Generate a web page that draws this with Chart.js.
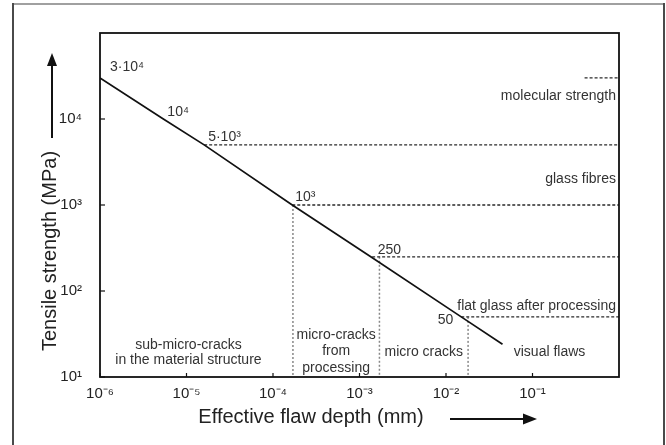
<!DOCTYPE html>
<html>
<head>
<meta charset="utf-8">
<script src="https://cdn.jsdelivr.net/npm/chart.js@4/dist/chart.umd.min.js"></script>
<style>
html,body{margin:0;padding:0;background:#fff;}
canvas{display:block;}
</style>
</head>
<body>
<canvas id="c" width="666" height="445"></canvas>
<script>
// ---- data ----
const flawDepth = [1e-6, 5.4e-6, 1.6e-5, 1.67e-4, 1.35e-3, 1.5e-2, 4.5e-2];   // mm
const strength  = [3e4, 1e4, 5e3, 1e3, 250, 50, 24];                          // MPa
const pointLabels = ['3·10⁴', '10⁴', '5·10³', '10³', '250', '50'];

const levelValues = [3e4, 5e3, 1e3, 250, 50];            // horizontal dashed levels (MPa)
const levelStart  = [0.4, 1.6e-5, 1.67e-4, 1.4e-3, 1.5e-2];
const levelEnd    = 1;

const boundaryDepth = [1.7e-4, 1.7e-3, 1.8e-2];          // vertical dotted boundaries (mm)
const boundaryTop   = [1e3, 250, 50];

const levelNames  = ['molecular strength', 'glass fibres', 'flat glass after processing'];
const regionNames = [
  ['sub-micro-cracks', 'in the material structure'],
  ['micro-cracks', 'from', 'processing'],
  ['micro cracks'],
  ['visual flaws']
];

const xTickValues = [1e-6, 1e-5, 1e-4, 1e-3, 1e-2, 1e-1];
const xTickLabels = ['10⁻⁶', '10⁻⁵', '10⁻⁴', '10⁻³', '10⁻²', '10⁻¹'];
const yTickValues = [10, 100, 1000, 10000];
const yTickLabels = ['10¹', '10²', '10³', '10⁴'];

const xMin = 1e-6, xMax = 1, yMin = 10, yMax = 1e5;
const xTitle = 'Effective flaw depth (mm)';
const yTitle = 'Tensile strength (MPa)';

// ---- styling ----
const FONT = '"Liberation Sans", Arial, Helvetica, sans-serif';

const datasets = [];
datasets.push({
  data: flawDepth.map((x, i) => ({x: x, y: strength[i]})),
  borderColor: '#111', borderWidth: 1.7, pointRadius: 0, tension: 0
});
levelValues.forEach((v, i) => datasets.push({
  data: [{x: levelStart[i], y: v}, {x: levelEnd, y: v}],
  borderColor: '#2a2a2a', borderWidth: 1.3, borderDash: [3, 2], pointRadius: 0
}));
boundaryDepth.forEach((d, i) => datasets.push({
  data: [{x: d, y: boundaryTop[i]}, {x: d, y: yMin}],
  borderColor: '#888', borderWidth: 1.5, borderDash: [2, 2], pointRadius: 0
}));

function txt(ctx, s, x, y, align, size, color) {
  ctx.font = size + 'px ' + FONT;
  ctx.textAlign = align;
  ctx.textBaseline = 'middle';
  ctx.fillStyle = color || '#2a2a2a';
  ctx.fillText(s, x, y);
}

const decor = {
  id: 'decor',
  beforeDraw(chart) {
    const ctx = chart.ctx;
    ctx.save();
    ctx.fillStyle = '#fff';
    ctx.fillRect(0, 0, chart.width, chart.height);
    // outer frame
    ctx.lineWidth = 2;
    ctx.strokeStyle = '#a0a0a0';
    ctx.beginPath(); ctx.moveTo(13, 4); ctx.lineTo(664, 4); ctx.stroke();
    ctx.strokeStyle = '#4a4a4a';
    ctx.beginPath(); ctx.moveTo(13, 3); ctx.lineTo(13, 445); ctx.stroke();
    ctx.beginPath(); ctx.moveTo(664, 3); ctx.lineTo(664, 445); ctx.stroke();
    ctx.restore();
  },
  afterDatasetsDraw(chart) {
    const ctx = chart.ctx, ca = chart.chartArea;
    const xs = chart.scales.x, ys = chart.scales.y;
    ctx.save();
    // plot frame
    ctx.strokeStyle = '#111'; ctx.lineWidth = 1.8;
    ctx.strokeRect(ca.left, ca.top, ca.right - ca.left, ca.bottom - ca.top);
    // inward tick marks
    ctx.lineWidth = 1.2;
    xTickValues.forEach(v => {
      const px = xs.getPixelForValue(v);
      ctx.beginPath(); ctx.moveTo(px, ca.bottom); ctx.lineTo(px, ca.bottom - 4); ctx.stroke();
    });
    yTickValues.forEach(v => {
      const py = ys.getPixelForValue(v);
      ctx.beginPath(); ctx.moveTo(ca.left, py); ctx.lineTo(ca.left + 5, py); ctx.stroke();
    });

    // value labels along the line
    const offs = [[10, -11, 'left'], [4, -7, 'left'], [4, -8, 'left'], [3, -8, 'left'], [7, -7, 'left'], [-8, 3, 'right']];
    pointLabels.forEach((s, i) => {
      const px = xs.getPixelForValue(flawDepth[i]), py = ys.getPixelForValue(strength[i]);
      txt(ctx, s, px + offs[i][0], py + offs[i][1], offs[i][2], 14, '#333');
    });

    // level names (right aligned)
    const r = ca.right - 3;
    txt(ctx, levelNames[0], r, ys.getPixelForValue(levelValues[0]) + 18, 'right', 14, '#333');
    txt(ctx, levelNames[1], r, (ys.getPixelForValue(levelValues[1]) + ys.getPixelForValue(levelValues[2])) / 2 + 4, 'right', 14, '#333');
    txt(ctx, levelNames[2], r, ys.getPixelForValue(levelValues[4]) - 11, 'right', 14, '#333');

    // region names
    const b = boundaryDepth.map(d => xs.getPixelForValue(d));
    const cx = [(ca.left + b[0]) / 2 - 8, (b[0] + b[1]) / 2, (b[1] + b[2]) / 2, (b[2] + ca.right) / 2 + 6];
    txt(ctx, regionNames[0][0], cx[0], ca.bottom - 32, 'center', 14, '#333');
    txt(ctx, regionNames[0][1], cx[0], ca.bottom - 17, 'center', 14, '#333');
    txt(ctx, regionNames[1][0], cx[1], ca.bottom - 42, 'center', 14, '#333');
    txt(ctx, regionNames[1][1], cx[1], ca.bottom - 26, 'center', 14, '#333');
    txt(ctx, regionNames[1][2], cx[1], ca.bottom - 9, 'center', 14, '#333');
    txt(ctx, regionNames[2][0], cx[2], ca.bottom - 25, 'center', 14, '#333');
    txt(ctx, regionNames[3][0], cx[3], ca.bottom - 25, 'center', 14, '#333');

    // axis titles
    txt(ctx, xTitle, 311, 417, 'center', 20, '#222');
    ctx.save();
    ctx.translate(50, 251);
    ctx.rotate(-Math.PI / 2);
    txt(ctx, yTitle, 0, 0, 'center', 20, '#222');
    ctx.restore();

    // arrows
    ctx.strokeStyle = '#111'; ctx.fillStyle = '#111'; ctx.lineWidth = 2;
    ctx.beginPath(); ctx.moveTo(52, 138); ctx.lineTo(52, 63); ctx.stroke();
    ctx.beginPath(); ctx.moveTo(52, 53); ctx.lineTo(57, 66); ctx.lineTo(47, 66); ctx.closePath(); ctx.fill();
    ctx.beginPath(); ctx.moveTo(450, 419); ctx.lineTo(526, 419); ctx.stroke();
    ctx.beginPath(); ctx.moveTo(537, 419); ctx.lineTo(523, 413.5); ctx.lineTo(523, 424.5); ctx.closePath(); ctx.fill();
    ctx.restore();
  }
};

new Chart(document.getElementById('c'), {
  type: 'line',
  data: { datasets: datasets },
  plugins: [decor],
  options: {
    responsive: false,
    animation: false,
    events: [],
    layout: { padding: { left: 0, top: 33, right: 47, bottom: 0 } },
    plugins: { legend: { display: false }, tooltip: { enabled: false } },
    scales: {
      x: {
        type: 'logarithmic', min: xMin, max: xMax,
        grid: { display: false, drawTicks: false },
        border: { display: false },
        afterBuildTicks: s => { s.ticks = xTickValues.map(v => ({value: v})); },
        afterFit: s => { s.height = 68; },
        ticks: {
          autoSkip: false, maxRotation: 0, padding: 8, color: '#222',
          font: { family: FONT, size: 15 },
          callback: (v, i) => xTickLabels[i]
        }
      },
      y: {
        type: 'logarithmic', min: yMin, max: yMax,
        grid: { display: false, drawTicks: false },
        border: { display: false },
        afterBuildTicks: s => { s.ticks = yTickValues.map(v => ({value: v})); },
        afterFit: s => { s.width = 100; },
        ticks: {
          autoSkip: false, padding: 18, color: '#222',
          font: { family: FONT, size: 15 },
          callback: (v, i) => yTickLabels[i]
        }
      }
    }
  }
});
</script>
</body>
</html>
